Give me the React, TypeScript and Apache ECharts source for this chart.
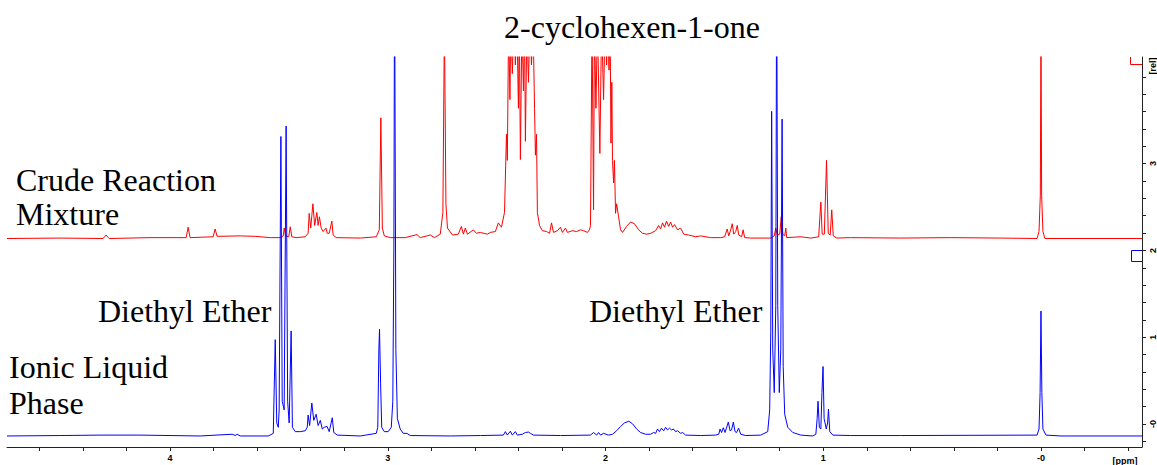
import React, { useEffect, useRef } from "react";
import * as echarts from "echarts";

// Vertical offsets (in axis units) of the two stacked traces
const RED_OFFSET = 2.137;
const BLUE_OFFSET = -0.138;

// Crude reaction mixture: [ppm, intensity above own baseline]
const redSpectrum: [number, number][] = [
  [4.749, 0], [4.506, 0.005], [4.308, 0], [4.294, 0.04], [4.28, 0], [4.092, 0.01],
  [3.926, 0.01], [3.917, 0.13], [3.908, 0.01], [3.802, 0.02], [3.793, 0.11], [3.784, 0.025],
  [3.678, 0.03], [3.609, 0.025], [3.54, 0.01], [3.494, 0.01], [3.48, 0.03], [3.476, 0.12],
  [3.469, 0.03], [3.455, 0.02], [3.448, 0.135], [3.441, 0.02], [3.421, 0.01], [3.379, 0.02],
  [3.366, 0.06], [3.361, 0.29], [3.354, 0.12], [3.344, 0.4], [3.336, 0.15], [3.326, 0.3],
  [3.32, 0.15], [3.314, 0.25], [3.306, 0.12], [3.297, 0.08], [3.284, 0.12], [3.278, 0.06],
  [3.269, 0.06], [3.257, 0.2], [3.251, 0.04], [3.237, 0.01], [3.126, 0.005], [3.053, 0.02],
  [3.039, 0.1], [3.032, 1.39], [3.025, 0.12], [3.016, 0.03], [2.989, 0.01], [2.92, 0.01],
  [2.866, 0.045], [2.851, 0.01], [2.805, 0.04], [2.786, 0.01], [2.759, 0.05], [2.747, 0.3],
  [2.74, 2.5], [2.733, 0.4], [2.726, 0.12], [2.703, 0.04], [2.676, 0.05], [2.662, 0.14],
  [2.653, 0.05], [2.644, 0.12], [2.634, 0.05], [2.607, 0.1], [2.593, 0.06], [2.575, 0.07],
  [2.543, 0.05], [2.529, 0.07], [2.506, 0.08], [2.492, 0.18], [2.478, 0.13], [2.464, 0.3],
  [2.455, 1.2], [2.451, 0.9], [2.445, 2.5], [2.439, 1.6], [2.435, 2.5], [2.428, 1.9],
  [2.421, 2.5], [2.414, 2.0], [2.407, 2.5], [2.4, 1.5], [2.396, 2.5], [2.391, 0.91],
  [2.384, 2.5], [2.377, 1.7], [2.372, 2.5], [2.368, 1.12], [2.361, 2.5], [2.354, 1.8],
  [2.347, 2.5], [2.34, 2.0], [2.333, 2.5], [2.326, 1.5], [2.322, 0.96], [2.317, 1.2],
  [2.313, 0.3], [2.303, 0.15], [2.29, 0.09], [2.271, 0.08], [2.257, 0.06], [2.248, 0.18],
  [2.239, 0.07], [2.221, 0.09], [2.207, 0.13], [2.198, 0.07], [2.184, 0.12], [2.175, 0.07],
  [2.152, 0.09], [2.133, 0.08], [2.115, 0.1], [2.101, 0.09], [2.083, 0.07], [2.074, 0.1],
  [2.069, 0.15], [2.062, 2.5], [2.055, 0.33], [2.051, 2.5], [2.044, 1.5], [2.037, 2.5],
  [2.026, 0.98], [2.018, 2.5], [2.009, 1.6], [2.002, 2.5], [1.995, 2.0], [1.989, 2.5],
  [1.984, 1.94], [1.979, 2.5], [1.975, 1.1], [1.971, 1.8], [1.968, 0.9], [1.963, 0.64],
  [1.959, 0.9], [1.954, 0.29], [1.949, 0.4], [1.94, 0.25], [1.931, 0.1], [1.922, 0.07],
  [1.903, 0.14], [1.885, 0.19], [1.867, 0.17], [1.848, 0.1], [1.83, 0.06], [1.811, 0.05],
  [1.793, 0.06], [1.77, 0.09], [1.756, 0.15], [1.747, 0.11], [1.738, 0.18], [1.729, 0.13],
  [1.72, 0.2], [1.71, 0.14], [1.701, 0.19], [1.692, 0.13], [1.683, 0.16], [1.669, 0.1],
  [1.655, 0.12], [1.641, 0.05], [1.618, 0.04], [1.586, 0.02], [1.563, 0.03], [1.517, 0.01],
  [1.471, 0.01], [1.453, 0.02], [1.441, 0.11], [1.434, 0.03], [1.425, 0.1], [1.418, 0.17],
  [1.411, 0.05], [1.402, 0.08], [1.395, 0.15], [1.388, 0.04], [1.375, 0.02], [1.368, 0.1],
  [1.361, 0.01], [1.333, 0.005], [1.241, 0.005], [1.225, 0.03], [1.218, 0.12], [1.211, 0.04],
  [1.2, 0.05], [1.193, 0.25], [1.186, 0.05], [1.177, 0.03], [1.172, 0.12], [1.168, 0.01],
  [1.103, 0.02], [1.057, 0.005], [1.021, 0.02], [1.011, 0.42], [1.005, 0.05], [0.995, 0.05],
  [0.985, 0.9], [0.977, 0.06], [0.968, 0.04], [0.961, 0.33], [0.954, 0.03], [0.938, 0.005],
  [0.874, 0.01], [0.644, 0.005], [0.414, 0.01], [0.184, 0.005], [0.018, 0], [0.009, 0.08],
  [0.003, 0.5], [0.0, 2.5], [-0.003, 0.5], [-0.009, 0.08], [-0.018, 0], [-0.464, 0],
];

// Ionic liquid phase: [ppm, intensity above own baseline]
const blueSpectrum: [number, number][] = [
  [4.749, 0], [4.506, 0.005], [4.322, 0.01], [4.138, 0.01], [3.862, 0], [3.715, 0.02],
  [3.701, 0.005], [3.692, 0.02], [3.678, 0], [3.549, 0], [3.526, 0.03], [3.517, 1.11],
  [3.51, 0.15], [3.503, 0.1], [3.499, 0.3], [3.491, 3.45], [3.485, 0.4], [3.476, 0.3],
  [3.467, 3.57], [3.46, 0.4], [3.453, 0.15], [3.444, 1.21], [3.438, 0.1], [3.425, 0.05],
  [3.402, 0.05], [3.379, 0.06], [3.37, 0.1], [3.366, 0.24], [3.359, 0.12], [3.349, 0.38],
  [3.34, 0.18], [3.329, 0.25], [3.32, 0.12], [3.31, 0.18], [3.301, 0.08], [3.292, 0.1],
  [3.279, 0.11], [3.269, 0.05], [3.255, 0.21], [3.248, 0.04], [3.232, 0.01], [3.126, 0],
  [3.053, 0.03], [3.046, 0.1], [3.041, 1.0], [3.038, 1.23], [3.033, 0.6], [3.028, 0.1],
  [3.016, 0.05], [2.998, 0.05], [2.984, 0.1], [2.977, 0.4], [2.972, 2.2], [2.969, 5.5],
  [2.963, 1.0], [2.956, 0.2], [2.943, 0.08], [2.929, 0.03], [2.912, 0.03], [2.897, 0.005],
  [2.713, 0], [2.575, 0.005], [2.469, 0.01], [2.46, 0.05], [2.451, 0.01], [2.437, 0.055],
  [2.428, 0.01], [2.414, 0.05], [2.405, 0.01], [2.382, 0.02], [2.368, 0.04], [2.354, 0.045],
  [2.345, 0.03], [2.331, 0.01], [2.207, 0.005], [2.069, 0.01], [2.055, 0.04], [2.041, 0.01],
  [2.032, 0.04], [2.023, 0.01], [2.009, 0.03], [1.986, 0.01], [1.968, 0.02], [1.949, 0.06],
  [1.931, 0.11], [1.913, 0.15], [1.893, 0.17], [1.876, 0.14], [1.857, 0.08], [1.839, 0.04],
  [1.816, 0.02], [1.793, 0.02], [1.779, 0.04], [1.77, 0.03], [1.761, 0.08], [1.752, 0.05],
  [1.743, 0.09], [1.733, 0.06], [1.724, 0.1], [1.715, 0.07], [1.706, 0.09], [1.697, 0.07],
  [1.688, 0.08], [1.678, 0.05], [1.669, 0.06], [1.655, 0.03], [1.646, 0.04], [1.632, 0.01],
  [1.563, 0.005], [1.494, 0.01], [1.48, 0.02], [1.474, 0.08], [1.467, 0.04], [1.459, 0.095],
  [1.451, 0.04], [1.436, 0.16], [1.428, 0.06], [1.421, 0.07], [1.413, 0.16], [1.405, 0.05],
  [1.398, 0.04], [1.389, 0.09], [1.379, 0.02], [1.356, 0.005], [1.287, 0.01], [1.255, 0.05],
  [1.246, 0.3], [1.241, 1.2], [1.237, 3.74], [1.232, 1.0], [1.225, 0.5], [1.218, 1.5],
  [1.214, 5.5], [1.209, 1.5], [1.202, 0.5], [1.195, 1.0], [1.189, 3.65], [1.184, 0.8],
  [1.177, 0.25], [1.163, 0.1], [1.14, 0.04], [1.103, 0.01], [1.048, 0], [1.034, 0.02],
  [1.028, 0.2], [1.024, 0.4], [1.018, 0.1], [1.011, 0.08], [1.006, 0.5], [1.001, 0.8],
  [0.996, 0.2], [0.986, 0.08], [0.98, 0.15], [0.976, 0.31], [0.97, 0.05], [0.956, 0.01],
  [0.874, 0.005], [0.644, 0.005], [0.018, 0.01], [0.009, 0.08], [0.004, 0.5], [0.0, 1.44],
  [-0.004, 0.5], [-0.009, 0.08], [-0.023, 0.01], [-0.092, 0], [-0.464, 0],
];

const xTickValues = [
  -0.4, -0.2, 0, 0.2, 0.4, 0.6, 0.8, 1, 1.2, 1.4, 1.6, 1.8, 2, 2.2, 2.4, 2.6, 2.8, 3,
  3.2, 3.4, 3.6, 3.8, 4, 4.2, 4.4, 4.6,
];
const xLabelValues = [0, 1, 2, 3, 4];
const yTickValues = [
  -0.2, 0, 0.2, 0.4, 0.6, 0.8, 1, 1.2, 1.4, 1.6, 1.8, 2, 2.2, 2.4, 2.6, 2.8, 3, 3.2, 3.4,
  3.6, 3.8, 4,
];
const yLabelValues = [0, 1, 2, 3];

const titleText = "2-cyclohexen-1-one";
const crudeLines = ["Crude Reaction", "Mixture"];
const etherText = "Diethyl Ether";
const ionicLines = ["Ionic Liquid", "Phase"];
const xUnit = "[ppm]";
const yUnit = "[rel]";

const SERIF = '"Liberation Serif", "Times New Roman", serif';
const SANS = '"Liberation Sans", Arial, sans-serif';

export default function App() {
  const ref = useRef<HTMLDivElement>(null);

  useEffect(() => {
    if (!ref.current) return;
    const chart = echarts.init(ref.current, undefined, { renderer: "svg" });

    const fmt = (v: number) => (v === 0 ? "-0" : String(v));
    const bigText = (text: string, x: number, y: number, align = "left") => ({
      type: "text",
      x,
      y,
      silent: true,
      style: {
        text,
        fill: "#000",
        fontFamily: SERIF,
        fontSize: 32,
        align,
        verticalAlign: "middle",
        textAlign: align,
        textVerticalAlign: "middle",
      },
    });

    chart.setOption({
      animation: false,
      backgroundColor: "#fff",
      grid: { left: 7, right: 15, top: 57, bottom: 18, containLabel: false },
      xAxis: {
        type: "value",
        inverse: true,
        min: -0.464,
        max: 4.749,
        axisLine: { show: true, onZero: false, lineStyle: { color: "#222", width: 1 } },
        axisTick: {
          show: true,
          inside: false,
          length: 4,
          customValues: xTickValues,
          lineStyle: { color: "#222" },
        },
        axisLabel: {
          show: true,
          customValues: xLabelValues,
          formatter: fmt,
          fontSize: 9,
          fontWeight: "bold",
          fontFamily: SANS,
          color: "#000",
          margin: 6,
        },
        splitLine: { show: false },
      },
      yAxis: {
        type: "value",
        position: "right",
        min: -0.265,
        max: 4.228,
        axisLine: { show: true, onZero: false, lineStyle: { color: "#222", width: 1 } },
        axisTick: {
          show: true,
          inside: false,
          length: 4,
          customValues: yTickValues,
          lineStyle: { color: "#222" },
        },
        axisLabel: {
          show: true,
          customValues: yLabelValues,
          formatter: fmt,
          rotate: 90,
          fontSize: 9,
          fontWeight: "bold",
          fontFamily: SANS,
          color: "#000",
          margin: 6,
        },
        splitLine: { show: false },
      },
      series: [
        {
          type: "line",
          name: "Crude Reaction Mixture",
          data: redSpectrum.map(([p, v]) => [p, v + RED_OFFSET]),
          showSymbol: false,
          symbol: "none",
          clip: true,
          silent: true,
          lineStyle: { color: "#ff0000", width: 1 },
          z: 2,
        },
        {
          type: "line",
          name: "Ionic Liquid Phase",
          data: blueSpectrum.map(([p, v]) => [p, v + BLUE_OFFSET]),
          showSymbol: false,
          symbol: "none",
          clip: true,
          silent: true,
          lineStyle: { color: "#0000ff", width: 1 },
          z: 3,
        },
      ],
      graphic: [
        bigText(titleText, 632, 27, "center"),
        bigText(crudeLines[0], 16, 180),
        bigText(crudeLines[1], 16, 214),
        bigText(etherText, 98, 311),
        bigText(etherText, 589, 311),
        bigText(ionicLines[0], 9, 367),
        bigText(ionicLines[1], 9, 403),
        {
          type: "text",
          x: 1125,
          y: 461,
          silent: true,
          style: {
            text: xUnit,
            fill: "#000",
            fontFamily: SANS,
            fontSize: 9,
            fontWeight: "bold",
            align: "center",
            verticalAlign: "middle",
            textAlign: "center",
            textVerticalAlign: "middle",
          },
        },
        {
          type: "text",
          x: 1153,
          y: 66,
          rotation: Math.PI / 2,
          silent: true,
          style: {
            text: yUnit,
            fill: "#000",
            fontFamily: SANS,
            fontSize: 9,
            fontWeight: "bold",
            align: "center",
            verticalAlign: "middle",
            textAlign: "center",
            textVerticalAlign: "middle",
          },
        },
        {
          type: "polyline",
          silent: true,
          shape: { points: [[1130.5, 57], [1130.5, 64.5], [1142, 64.5]] },
          style: { stroke: "#ff0000", fill: "none", lineWidth: 1 },
        },
        {
          type: "polyline",
          silent: true,
          shape: { points: [[1142, 250.5], [1131.5, 250.5], [1131.5, 261.5], [1142, 261.5]] },
          style: { stroke: "#0000ff", fill: "none", lineWidth: 1 },
        },
      ],
    });

    return () => chart.dispose();
  }, []);

  return (
    <div
      ref={ref}
      style={{ position: "absolute", left: 0, top: 0, width: 1157, height: 465, background: "#fff" }}
    />
  );
}
